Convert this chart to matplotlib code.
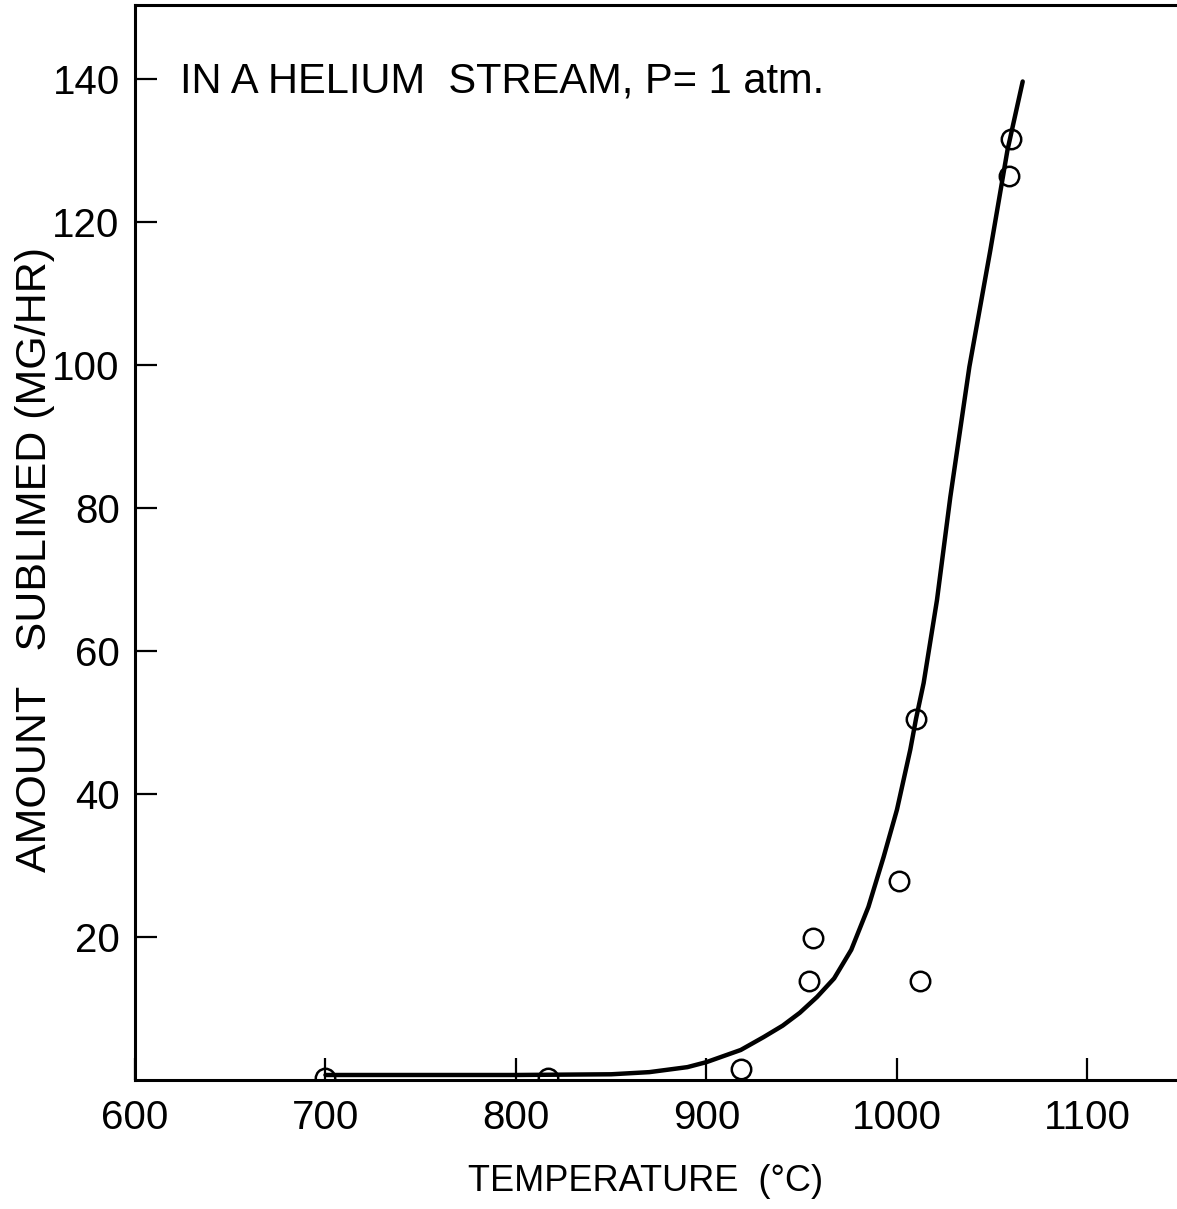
import matplotlib.pyplot as plt

# measured points (circles)
temp_pts = [700, 817, 918, 954, 956, 1001, 1010, 1012, 1059, 1060]
rate_pts = [0.3, 0.3, 1.5, 13.8, 19.9, 27.8, 50.5, 13.8, 126.4, 131.6]

# smooth curve
curve_t = [700, 750, 800, 850, 870, 890, 900, 918, 930, 940, 949, 958, 967,
           976, 985, 993, 1000, 1007, 1010, 1014, 1021, 1028, 1038, 1049,
           1058, 1066]
curve_y = [0.7, 0.7, 0.7, 0.8, 1.1, 1.8, 2.5, 4.2, 6.0, 7.6, 9.4, 11.6, 14.2,
           18.2, 24.2, 31.2, 37.8, 46.2, 50.5, 55.5, 67.1, 81.5, 99.7, 116.0,
           130.0, 139.6]

x_ticks = [600, 700, 800, 900, 1000, 1100]
y_ticks = [20, 40, 60, 80, 100, 120, 140]

plt.rcParams['font.family'] = ['Liberation Sans', 'DejaVu Sans']

fig = plt.figure(figsize=(11.77, 12.09), dpi=100)
ax = fig.add_axes([0.1147, 0.1067, 0.8853, 0.8892])

ax.plot(curve_t, curve_y, color='black', lw=3.2,
        solid_capstyle='round', solid_joinstyle='round')
ax.plot(temp_pts, rate_pts, 'o', mfc='none', mec='black', ms=14, mew=1.8)

ax.set_xlim(600, 1147)
ax.set_ylim(0, 150.3)
ax.set_xticks(x_ticks)
ax.set_yticks(y_ticks)
ax.set_xticklabels([str(v) for v in x_ticks])
ax.set_yticklabels([str(v) for v in y_ticks])

for s in ['left', 'bottom', 'top']:
    ax.spines[s].set_linewidth(2.2)
ax.spines['right'].set_visible(False)

ax.tick_params(direction='in', length=16, width=1.6, labelsize=29)
ax.tick_params(axis='x', pad=14)
ax.tick_params(axis='y', pad=11)

ax.set_xlabel('TEMPERATURE  (°C)', fontsize=26)
ax.xaxis.set_label_coords(0.49, -0.078)
ax.set_ylabel('AMOUNT   SUBLIMED (MG/HR)', fontsize=31)
ax.yaxis.set_label_coords(-0.077, 0.484)

ax.text(0.043, 0.919, 'IN A HELIUM  STREAM, P= 1 atm.', transform=ax.transAxes,
        fontsize=30, va='baseline', ha='left')

fig.savefig('out.png', dpi=100)
